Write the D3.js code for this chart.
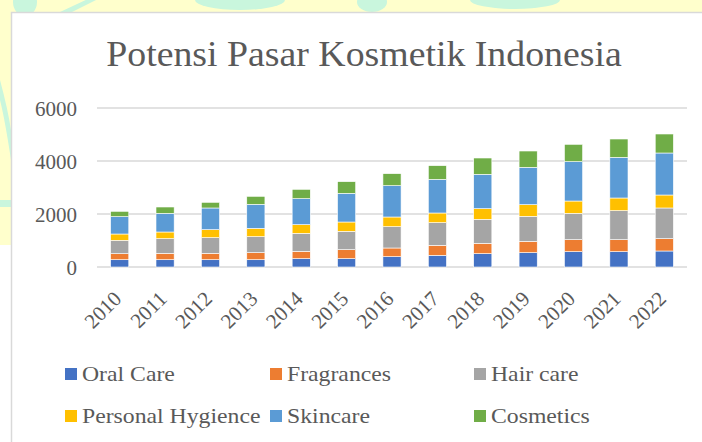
<!DOCTYPE html>
<html>
<head>
<meta charset="utf-8">
<script src="https://cdn.jsdelivr.net/npm/d3@7"></script>
<style>
  html, body { margin: 0; padding: 0; background: #fff; }
  svg { display: block; }
</style>
</head>
<body>
<svg id="chart" width="702" height="442"></svg>
<script>
// data (values in same units as the y axis)
var years = ['2010', '2011', '2012', '2013', '2014', '2015', '2016', '2017', '2018', '2019', '2020', '2021', '2022'];
var seriesNames = ['Oral Care', 'Fragrances', 'Hair care', 'Personal Hygience', 'Skincare', 'Cosmetics'];
var oralCare   = [275, 275, 275, 275, 314, 314, 390, 440, 503, 541, 578, 578, 604];
var fragrances = [227, 241, 241, 266, 277, 340, 327, 377, 390, 428, 454, 454, 466];
var hairCare   = [505, 554, 591, 604, 679, 692, 805, 856, 906, 943, 993, 1094, 1157];
var personalHy = [238, 251, 302, 314, 328, 352, 365, 365, 403, 440, 465, 478, 490];
var skincare   = [654, 704, 818, 906, 981, 1082, 1182, 1270, 1295, 1409, 1485, 1534, 1585];
var cosmetics  = [202, 239, 214, 302, 352, 440, 453, 516, 616, 616, 654, 692, 717];
var yTicks = [0, 2000, 4000, 6000];
var colors = ['#4472C4', '#ED7D31', '#A5A5A5', '#FFC000', '#5B9BD5', '#70AD47'];

(function () {
    var svg = d3.select('#chart');
    var W = 702, H = 442;
    var FONT = '"Liberation Serif", "Times New Roman", serif';
    var TXT = '#595959';

    // page background behind the chart box (yellow with faint mint watermark)
    svg.append('rect').attr('x', 0).attr('y', 0).attr('width', W).attr('height', 12).attr('fill', '#ffffcc');
    svg.append('rect').attr('x', 0).attr('y', 0).attr('width', 11).attr('height', 245).attr('fill', '#ffffcc');
    var mint = '#c9f6dd';
    svg.append('ellipse').attr('cx', 25).attr('cy', 2).attr('rx', 12).attr('ry', 14).attr('fill', mint);
    svg.append('path').attr('d', 'M60,12 L90,-2 L100,-2 L72,12 Z').attr('fill', mint);
    svg.append('ellipse').attr('cx', 240).attr('cy', 0).attr('rx', 45).attr('ry', 10).attr('fill', mint);
    svg.append('ellipse').attr('cx', 372).attr('cy', 2).attr('rx', 15).attr('ry', 10).attr('fill', mint);
    svg.append('ellipse').attr('cx', 515).attr('cy', 0).attr('rx', 45).attr('ry', 9).attr('fill', mint);
    svg.append('path').attr('d', 'M0,80 Q8,110 11,130 L11,160 Q5,120 0,100 Z').attr('fill', mint);
    svg.append('rect').attr('x', 0).attr('y', 200).attr('width', 11).attr('height', 7).attr('fill', mint);

    // chart box
    svg.append('rect').attr('x', 11.5).attr('y', 12.5).attr('width', W).attr('height', H)
        .attr('fill', '#fff').attr('stroke', '#d9d9d9').attr('stroke-width', 1.5);

    // title (source picture is a bit stretched sideways)
    svg.append('text')
        .attr('transform', 'translate(364,66) scale(1.05,1)')
        .attr('text-anchor', 'middle')
        .attr('font-family', FONT).attr('font-size', 36)
        .attr('fill', TXT)
        .text('Potensi Pasar Kosmetik Indonesia');

    var plot = { left: 97, right: 687, top: 108, bottom: 267 };

    var x = d3.scaleBand().domain(years).range([plot.left, plot.right]).paddingInner(0.6).paddingOuter(0.3);
    var y = d3.scaleLinear().domain([0, 6000]).range([plot.bottom, plot.top]);

    // gridlines
    svg.append('g').selectAll('line').data(yTicks).join('line')
        .attr('x1', plot.left).attr('x2', plot.right)
        .attr('y1', function (d) { return y(d); }).attr('y2', function (d) { return y(d); })
        .attr('stroke', '#d9d9d9').attr('stroke-width', 1.5);

    // y labels
    var yAxis = d3.axisLeft(y).tickValues(yTicks).tickSize(0).tickPadding(0).tickFormat(d3.format('d'));
    var gy = svg.append('g').attr('transform', 'translate(77,0)').call(yAxis);
    gy.select('.domain').remove();
    gy.selectAll('text').attr('font-family', FONT).attr('font-size', 21).attr('fill', TXT).attr('dy', '0.34em');

    // stacked bars
    var rows = years.map(function (yr, i) {
        return {
            year: yr,
            'Oral Care': oralCare[i],
            'Fragrances': fragrances[i],
            'Hair care': hairCare[i],
            'Personal Hygience': personalHy[i],
            'Skincare': skincare[i],
            'Cosmetics': cosmetics[i]
        };
    });
    var stacked = d3.stack().keys(seriesNames)(rows);

    svg.append('g').selectAll('g').data(stacked).join('g')
        .attr('fill', function (d, i) { return colors[i]; })
        .selectAll('rect').data(function (d) { return d; }).join('rect')
        .attr('x', function (d) { return x(d.data.year); })
        .attr('width', x.bandwidth())
        .attr('y', function (d) { return y(d[1]); })
        .attr('height', function (d) { return y(d[0]) - y(d[1]); })
        .attr('stroke', '#fff').attr('stroke-width', 0.6);

    // x labels (rotated -45)
    svg.append('g').selectAll('text').data(years).join('text')
        .attr('transform', function (d) {
            var cx = x(d) + x.bandwidth() / 2 + 3;
            return 'translate(' + cx + ',' + (plot.bottom + 33) + ') rotate(-45)';
        })
        .attr('text-anchor', 'end')
        .attr('font-family', FONT).attr('font-size', 21).attr('fill', TXT)
        .text(function (d) { return d; });

    // legend
    var legPos = [
        { sx: 65, ty: 381 }, { sx: 270, ty: 381 }, { sx: 474, ty: 381 },
        { sx: 65, ty: 423 }, { sx: 270, ty: 423 }, { sx: 474, ty: 423 }
    ];
    var leg = svg.append('g').selectAll('g').data(seriesNames).join('g')
        .attr('transform', function (d, i) { return 'translate(' + legPos[i].sx + ',' + legPos[i].ty + ')'; });
    leg.append('rect')
        .attr('x', 0).attr('y', -13).attr('width', 12).attr('height', 12)
        .attr('fill', function (d, i) { return colors[i]; });
    leg.append('text')
        .attr('transform', 'translate(17,0) scale(1.13,1)')
        .attr('font-family', FONT).attr('font-size', 21).attr('fill', TXT)
        .text(function (d) { return d; });
})();
</script>
</body>
</html>
